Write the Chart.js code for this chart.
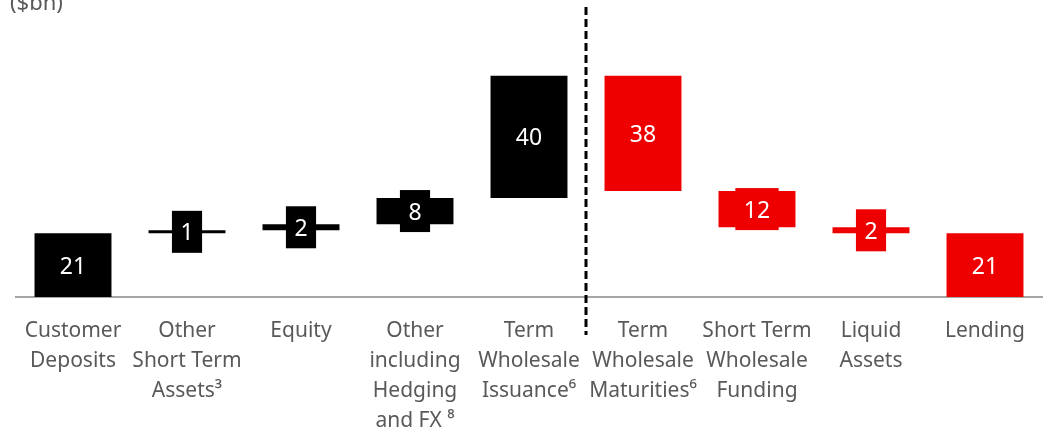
<!DOCTYPE html>
<html>
<head>
<meta charset="utf-8">
<script src="https://cdn.jsdelivr.net/npm/chart.js@4"></script>
<style>
  body { margin: 0; background: #ffffff; }
  #wrap { width: 1047px; height: 431px; position: relative; }
</style>
</head>
<body>
<div id="wrap"><canvas id="fundingChart"></canvas></div>
<script>
// categories (multi-line tick labels)
const categories = [
    ['Customer', 'Deposits'],
    ['Other', 'Short Term', 'Assets\u00b3'],
    ['Equity'],
    ['Other', 'including', 'Hedging', 'and FX \u2078'],
    ['Term', 'Wholesale', 'Issuance\u2076'],
    ['Term', 'Wholesale', 'Maturities\u2076'],
    ['Short Term', 'Wholesale', 'Funding'],
    ['Liquid', 'Assets'],
    ['Lending']
];
// value shown on each bar ($bn)
const values = [21, 1, 2, 8, 40, 38, 12, 2, 21];
// where each step starts and ends on the running total
const stepFrom = [0, 21, 22, 24, 32.7, 73, 35, 23, 21];
const stepTo   = [21, 22, 24, 32.7, 73, 35, 23, 21, 0];
// sources first, then uses
const kind = ['src', 'src', 'src', 'src', 'src', 'use', 'use', 'use', 'use'];

const colors = {
    src: '#000000',
    use: '#ee0000',
    text: '#595959',
    axis: '#a6a6a6'
};

const barColors = kind.map(k => colors[k]);

// value labels with a small box behind them + the dashed divider
const labelPlugin = {
    id: 'valueBoxes',
    afterDatasetsDraw(chart) {
        const ctx = chart.ctx;
        const meta = chart.getDatasetMeta(0);
        ctx.save();
        ctx.font = '23px "Noto Sans"';
        ctx.textAlign = 'center';
        ctx.textBaseline = 'middle';
        meta.data.forEach((bar, i) => {
            const txt = String(values[i]);
            const cy = (bar.y + bar.base) / 2;
            const w = ctx.measureText(txt).width + 17;
            ctx.fillStyle = barColors[i];
            ctx.fillRect(bar.x - w / 2, cy - 21, w, 42);
            ctx.fillStyle = '#ffffff';
            ctx.fillText(txt, bar.x, cy + 2);
        });

        // divider between sources and uses
        const xs = chart.scales.x;
        const dx = (xs.getPixelForValue(4) + xs.getPixelForValue(5)) / 2;
        ctx.beginPath();
        ctx.setLineDash([8, 4]);
        ctx.lineWidth = 3;
        ctx.strokeStyle = '#000000';
        ctx.moveTo(dx, 7);
        ctx.lineTo(dx, 335);
        ctx.stroke();
        ctx.setLineDash([]);

        // unit label (cut off at the top like the slide)
        ctx.fillStyle = colors.text;
        ctx.textAlign = 'left';
        ctx.textBaseline = 'alphabetic';
        ctx.font = '22px "Noto Sans"';
        ctx.fillText('($bn)', 10, 10);
        ctx.restore();
    }
};

new Chart(document.getElementById('fundingChart'), {
    type: 'bar',
    data: {
        labels: categories,
        datasets: [{
            data: stepFrom.map((f, i) => [f, stepTo[i]]),
            backgroundColor: barColors,
            borderWidth: 0,
            categoryPercentage: 1,
            barPercentage: 0.675
        }]
    },
    options: {
        responsive: true,
        maintainAspectRatio: false,
        animation: false,
        layout: { padding: { left: 16, right: 5, top: 6, bottom: 0 } },
        plugins: {
            legend: { display: false },
            tooltip: { enabled: false }
        },
        scales: {
            x: {
                grid: { display: false },
                border: { display: true, color: colors.axis, width: 2 },
                ticks: {
                    color: colors.text,
                    font: { family: 'Noto Sans', size: 21, lineHeight: 1.43 },
                    padding: 11,
                    autoSkip: false,
                    maxRotation: 0,
                    minRotation: 0
                },
                afterFit(axis) { axis.height = 134; }
            },
            y: {
                display: false,
                min: 0,
                max: 96
            }
        }
    },
    plugins: [labelPlugin]
});
</script>
</body>
</html>
